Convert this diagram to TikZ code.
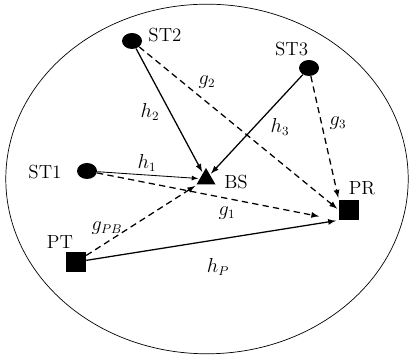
\documentclass[tikz,border=0pt]{standalone}
\usepackage{amsmath, amssymb}
\usepackage{xcolor}
\usepackage{tikz}
\usetikzlibrary{calc, shapes.geometric, positioning}

\begin{document}
\begin{tikzpicture}[>=latex, scale=1.0,
    st/.style={ellipse, fill=black, minimum width=0.5cm, minimum height=0.4cm, inner sep=0pt},
    sq/.style={rectangle, fill=black, minimum size=0.5cm, inner sep=0pt},
    bs/.style={regular polygon, regular polygon sides=3, fill=black, minimum size=0.55cm, inner sep=0pt},
    lab/.style={font=\fontsize{13.5}{16}\selectfont},
    kenh/.style={->, line width=0.9pt, shorten >=1pt},
    kenhnet/.style={->, line width=0.9pt, dash pattern=on 4.5pt off 3pt, shorten >=1.5pt}]
    \useasboundingbox (0,0) rectangle (10.25,8.875);

    % 1. Vùng phủ sóng
    \draw[line width=0.5pt] (5.175,4.4) ellipse (5.03cm and 4.37cm);

    % 2. Các nút
    \node[st] (ST1) at (2.175,4.6) {};
    \node[st] (ST2) at (3.3,7.85) {};
    \node[st] (ST3) at (7.725,7.175) {};
    \node[bs] (BS) at (5.15,4.4) {};
    \node[sq] (PR) at (8.725,3.625) {};
    \node[sq] (PT) at (1.9,2.325) {};

    \node[lab] (tST1) at (1.125,4.575) {ST1};
    \node[lab] (tST2) at (4.125,8.0) {ST2};
    \node[lab] (tST3) at (7.29,7.65) {ST3};
    \node[lab] (tBS) at (5.9,4.325) {BS};
    \node[lab] (tPR) at (9.05,4.175) {PR};
    \node[lab] (tPT) at (1.5,2.825) {PT};

    % 3. Kênh truyền (nét liền)
    \draw[kenh] (ST2) -- (BS);
    \draw[kenh] (ST3) -- (BS);
    \draw[kenh, line width=0.6pt] (ST1) -- (BS);
    \draw[kenh, shorten >=2pt] (PT) -- (PR.south west);

    % 4. Kênh nhiễu (nét đứt)
    \draw[kenhnet] (ST2) -- (PR.west);
    \draw[kenhnet] (ST3) -- (PR.north west);
    \draw[kenhnet, shorten >=0.5cm] (ST1) -- (PR.south west);
    \draw[kenhnet] (PT) -- (BS);

    % 5. Nhãn các kênh
    \node[lab] (h1) at (3.675,4.8) {$h_1$};
    \node[lab] (h2) at (3.75,6.075) {$h_2$};
    \node[lab] (h3) at (7.0,5.7) {$h_3$};
    \node[lab] (g1) at (5.675,3.55) {$g_1$};
    \node[lab] (g2) at (5.175,6.825) {$g_2$};
    \node[lab] (g3) at (8.45,5.8) {$g_3$};
    \node[lab] (gPB) at (2.675,3.175) {$g_{PB}$};
    \node[lab] (hP) at (5.45,2.2) {$h_P$};

\end{tikzpicture}
\end{document}
